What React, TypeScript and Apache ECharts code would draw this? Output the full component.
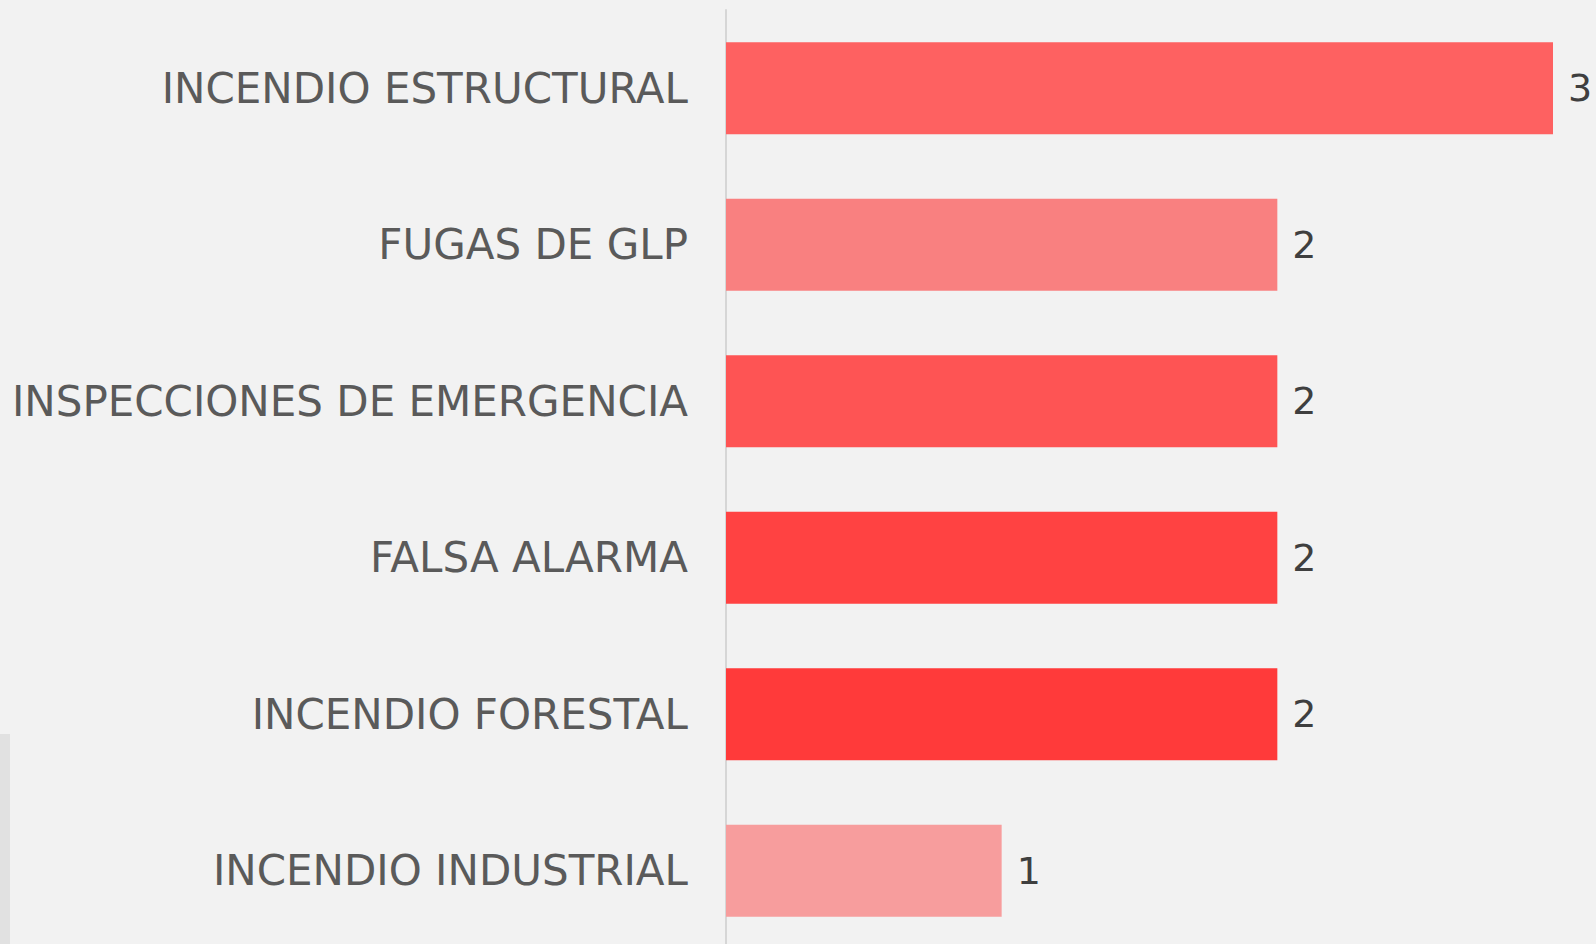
import React, { useEffect, useRef } from "react";
import * as echarts from "echarts";

const categories = [
  "INCENDIO ESTRUCTURAL",
  "FUGAS DE GLP",
  "INSPECCIONES DE EMERGENCIA",
  "FALSA ALARMA",
  "INCENDIO FORESTAL",
  "INCENDIO INDUSTRIAL",
];
const values = [3, 2, 2, 2, 2, 1];
const barColors = ["#FE6161", "#F98080", "#FE5454", "#FF4242", "#FF3A3A", "#F79D9D"];

export default function App() {
  const ref = useRef<HTMLDivElement>(null);
  useEffect(() => {
    document.body.style.margin = "0";
    document.body.style.overflow = "hidden";
    const chart = echarts.init(ref.current!, undefined, { renderer: "svg" });
    chart.setOption({
      animation: false,
      backgroundColor: "#F2F2F2",
      grid: { left: 726, top: 10, width: 827, height: 939, containLabel: false },
      xAxis: {
        type: "value",
        min: 0,
        max: 3,
        show: false,
      },
      yAxis: {
        type: "category",
        data: categories,
        inverse: true,
        axisLine: { show: true, lineStyle: { color: "#D6D6D6", width: 2 } },
        axisTick: { show: false },
        axisLabel: {
          color: "#5A5A5A",
          fontFamily: "DejaVu Sans",
          fontSize: 42,
          margin: 38,
        },
        splitLine: { show: false },
      },
      series: [
        {
          type: "bar",
          data: values.map((v, i) => ({ value: v, itemStyle: { color: barColors[i] } })),
          barWidth: 92,
          label: {
            show: true,
            position: "right",
            distance: 15,
            color: "#3F3F3F",
            fontFamily: "DejaVu Sans",
            fontSize: 38,
          },
        },
      ],
      graphic: [
        {
          type: "rect",
          shape: { x: 0, y: 734, width: 10, height: 226 },
          style: { fill: "#E1E1E1" },
        },
      ],
    });
    return () => chart.dispose();
  }, []);
  return <div ref={ref} style={{ width: 1596, height: 960 }} />;
}
